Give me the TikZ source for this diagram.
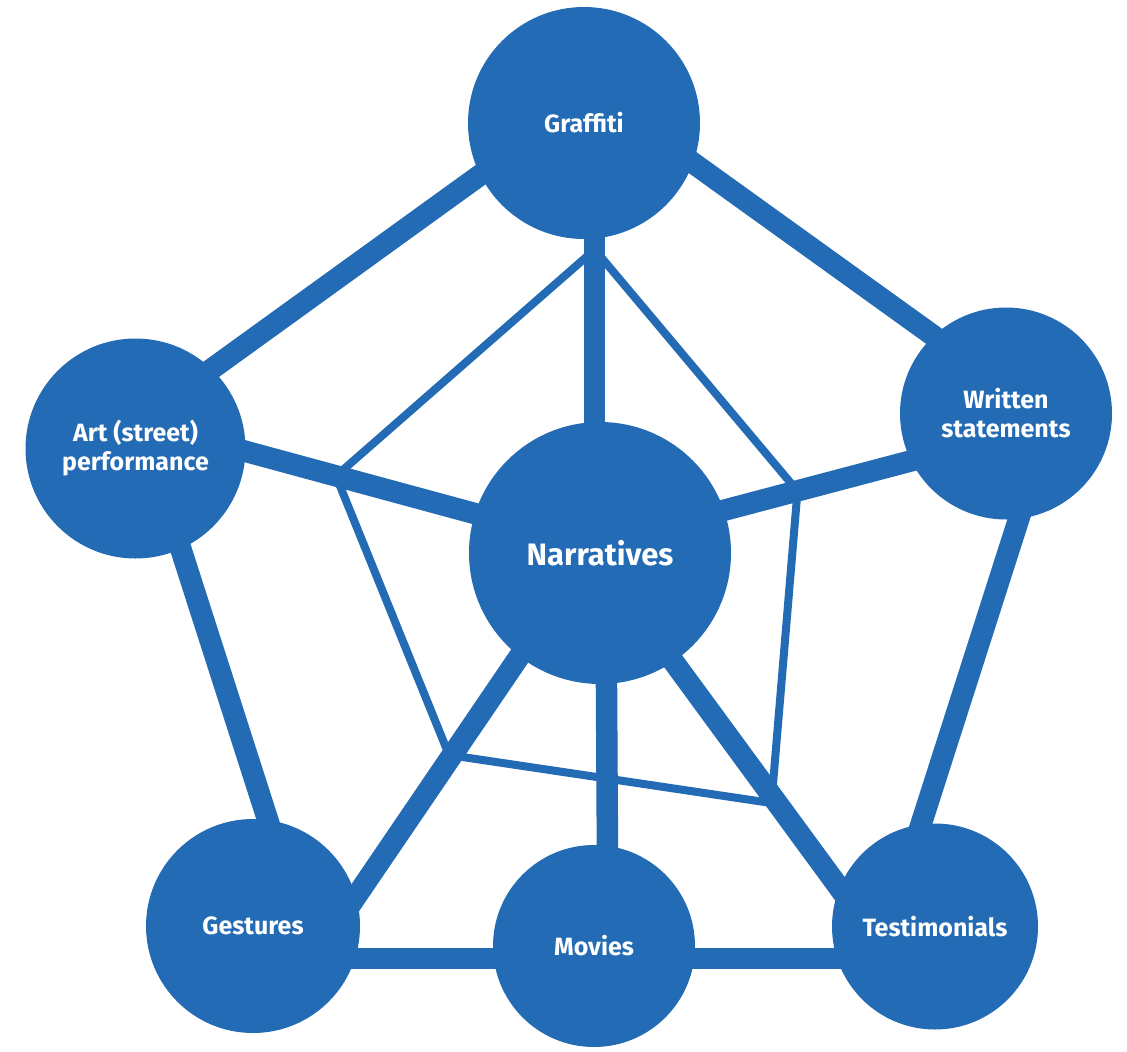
\documentclass[tikz,border=0pt]{standalone}
\usepackage{fontspec}
\setmainfont{Fira Sans}
\usetikzlibrary{calc,backgrounds}
\definecolor{nodeblue}{RGB}{35,107,180}
\begin{document}
\begin{tikzpicture}[x=1pt,y=-1pt,
  hub/.style={circle,fill=nodeblue,draw=none,inner sep=0pt,text=white,
    font=\bfseries\fontsize{25}{29}\selectfont,align=center},
  bighub/.style={hub,font=\bfseries\fontsize{31}{36}\selectfont},
  thickedge/.style={draw=nodeblue,line width=21.5pt},
  thinedge/.style={draw=nodeblue,line width=8pt,line join=round}]
\useasboundingbox (0,0) rectangle (1127,1052);

\node[hub,minimum size=232pt] (gr) at (584,123) {Graffiti};
\node[hub,minimum size=212pt] (wr) at (1006,413.5) {Written\\statements};
\node[hub,minimum size=220pt] (ar) at (135.5,448.5) {Art (street)\\performance};
\node[bighub,minimum size=262pt] (na) at (600,553) {Narratives};
\node[hub,minimum size=214pt] (ge) at (253,926) {Gestures};
\node[hub,minimum size=202pt] (mo) at (594,946) {Movies};
\node[hub,minimum size=206pt] (te) at (935,926.5) {Testimonials};

\begin{pgfonlayer}{background}
  % inner thin pentagon
  \coordinate (p1) at (594.7,249.6);
  \coordinate (p2) at (336,476);
  \coordinate (p3) at (449,755);
  \coordinate (p4a) at (778,804);
  \coordinate (p4b) at (772,796);
  \coordinate (p5) at (797.5,491);
  \draw[thinedge] (p4b) -- (p5) -- (p1) -- (p2) -- (p3) -- (p4a);
  % thick connectors
  \draw[thickedge] ($(gr)+(0,-23)$) -- ($(ar)+(0,-24.5)$);
  \draw[thickedge] ($(gr)+(0,-38.5)$) -- ($(wr)+(0,-25.5)$);
  \draw[thickedge] ($(gr)+(10.7,0)$) -- ($(na)+(-5.3,0)$);
  \draw[thickedge] ($(ar)+(0,-27)$) -- ($(na)+(0,-5.5)$);
  \draw[thickedge] ($(na)+(0,-10)$) -- ($(wr)+(0,22.3)$);
  \draw[thickedge] ($(ar)+(13.1,0)$) -- ($(ge)+(48.8,0)$);
  \draw[thickedge] ($(wr)+(46.5,0)$) -- ($(te)+(-46.7,0)$);
  \draw[thickedge] ($(na)+(-10.3,0)$) -- ($(ge)+(83,0)$);
  \draw[thickedge] ($(na)+(-6.2,0)$) -- ($(te)+(-67.4,0)$);
  \draw[thickedge] ($(na)+(5.7,0)$) -- ($(mo)+(14,0)$);
  \draw[thickedge] ($(ge)+(0,32.5)$) -- ($(mo)+(0,12.5)$);
  \draw[thickedge] ($(mo)+(0,12.5)$) -- ($(te)+(0,32)$);
\end{pgfonlayer}
\end{tikzpicture}
\end{document}
